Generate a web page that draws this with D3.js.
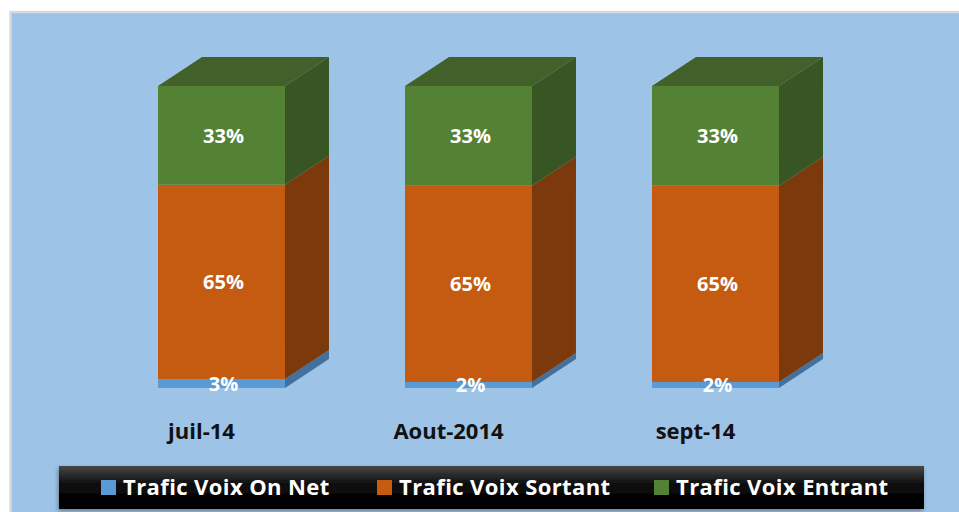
<!DOCTYPE html>
<html>
<head>
<meta charset="utf-8">
<script src="https://cdn.jsdelivr.net/npm/d3@7"></script>
<style>
  body { margin: 0; background: #fff; }
  svg { display: block; font-family: "Open Sans", sans-serif; font-variant-ligatures: none; }
</style>
</head>
<body>
<svg width="959" height="512"></svg>
<script>
// chart data
const months = ["juil-14", "Aout-2014", "sept-14"];
const seriesNames = ["Trafic Voix On Net", "Trafic Voix Sortant", "Trafic Voix Entrant"];
const onNet = [3, 2, 2];
const sortant = [65, 65, 65];
const entrant = [33, 33, 33];

const colors = {
  front: ["#5B9BD5", "#C55A11", "#548235"],
  side:  ["#41719C", "#7C3A0C", "#375623"],
  top:   ["#4A7FB0", "#9A460D", "#41602A"]
};

const svg = d3.select("svg");
const W = 959, H = 512;

// background panel
svg.append("rect")
  .attr("x", 10.5).attr("y", 12)
  .attr("width", W + 10).attr("height", H + 10)
  .attr("fill", "#9DC3E6")
  .attr("stroke", "#D9D9D9")
  .attr("stroke-width", 2.5);

// rows for the stack
const rows = months.map((m, i) => ({
  month: m,
  [seriesNames[0]]: onNet[i],
  [seriesNames[1]]: sortant[i],
  [seriesNames[2]]: entrant[i]
}));

const stack = d3.stack().keys(seriesNames).offset(d3.stackOffsetExpand);
const layers = stack(rows);

const x = d3.scaleBand()
  .domain(months)
  .range([98, 839])
  .paddingInner(0.486)
  .paddingOuter(0.243);

const y = d3.scaleLinear().domain([0, 1]).range([388, 86]);

// 3d depth offset
const dx = 44, dy = -29;

const g = svg.append("g");

months.forEach((m, i) => {
  const x0 = x(m), x1 = x0 + x.bandwidth();
  layers.forEach((layer, k) => {
    const d = layer[i];
    const yTop = y(d[1]), yBot = y(d[0]);
    // front face
    g.append("rect")
      .attr("x", x0).attr("y", yTop)
      .attr("width", x1 - x0).attr("height", yBot - yTop)
      .attr("fill", colors.front[k]);
    // side face
    g.append("path")
      .attr("d", `M${x1},${yTop}L${x1 + dx},${yTop + dy}L${x1 + dx},${yBot + dy}L${x1},${yBot}Z`)
      .attr("fill", colors.side[k]);
    // top face on the last segment
    if (k === layers.length - 1) {
      g.append("path")
        .attr("d", `M${x0},${yTop}L${x0 + dx},${yTop + dy}L${x1 + dx},${yTop + dy}L${x1},${yTop}Z`)
        .attr("fill", colors.top[k]);
    }
  });
});

// data labels
layers.forEach((layer, k) => {
  const vals = [onNet, sortant, entrant][k];
  g.selectAll(".lbl" + k)
    .data(layer)
    .enter().append("text")
    .attr("x", (d, i) => x(months[i]) + x.bandwidth() / 2 + 2)
    .attr("y", d => (y(d[0]) + y(d[1])) / 2)
    .attr("dy", "0.36em")
    .attr("text-anchor", "middle")
    .attr("fill", "#fff")
    .attr("font-weight", "bold")
    .attr("font-size", 20)
    .text((d, i) => vals[i] + "%");
});

// category labels
g.selectAll(".cat")
  .data(months)
  .enter().append("text")
  .attr("x", d => x(d) + x.bandwidth() / 2 - 20)
  .attr("y", 439)
  .attr("text-anchor", "middle")
  .attr("fill", "#111")
  .attr("font-weight", "bold")
  .attr("font-size", 22)
  .text(d => d);

// legend
const defs = svg.append("defs");
const grad = defs.append("linearGradient")
  .attr("id", "legGrad").attr("x1", 0).attr("y1", 0).attr("x2", 0).attr("y2", 1);
grad.append("stop").attr("offset", "0%").attr("stop-color", "#474747");
grad.append("stop").attr("offset", "45%").attr("stop-color", "#0a0a0a");
grad.append("stop").attr("offset", "100%").attr("stop-color", "#000");
const shadow = defs.append("filter").attr("id", "shadow")
  .attr("x", "-5%").attr("y", "-20%").attr("width", "110%").attr("height", "150%");
shadow.append("feDropShadow")
  .attr("dx", -1).attr("dy", 2).attr("stdDeviation", 2)
  .attr("flood-color", "#000").attr("flood-opacity", 0.35);

svg.append("rect")
  .attr("x", 59).attr("y", 466)
  .attr("width", 865).attr("height", 43)
  .attr("fill", "url(#legGrad)")
  .attr("filter", "url(#shadow)");

const legendX = [101, 377, 654];
const legend = svg.selectAll(".leg")
  .data(seriesNames)
  .enter().append("g")
  .attr("transform", (d, i) => `translate(${legendX[i]},480)`);

legend.append("rect")
  .attr("width", 15).attr("height", 15)
  .attr("fill", (d, i) => colors.front[i]);

legend.append("text")
  .attr("x", 22).attr("y", 15)
  .attr("fill", "#fff")
  .attr("font-weight", "bold")
  .attr("font-size", 22)
  .attr("letter-spacing", 0.4)
  .text(d => d);
</script>
</body>
</html>
